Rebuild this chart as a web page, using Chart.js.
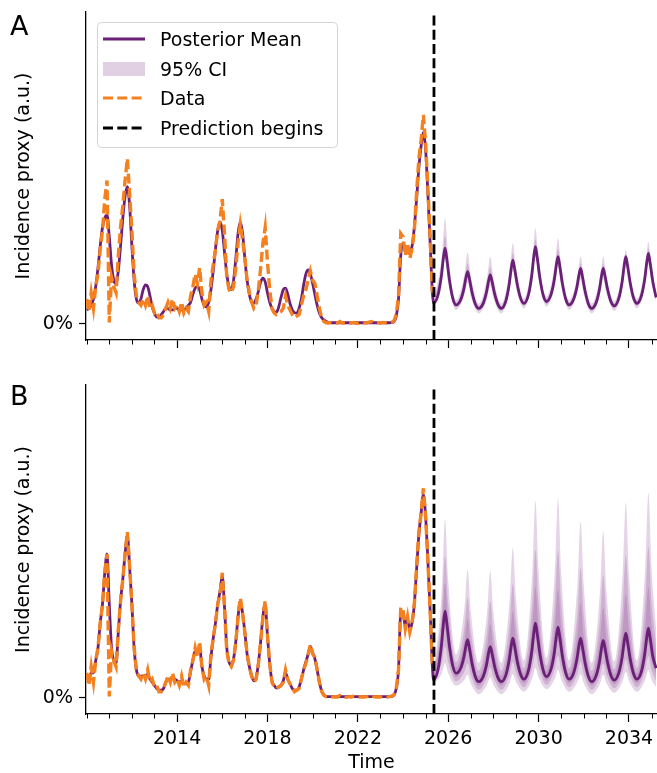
<!DOCTYPE html>
<html>
<head>
<meta charset="utf-8">
<script src="https://cdn.jsdelivr.net/npm/chart.js@4.4.1/dist/chart.umd.min.js"></script>
<style>
  html, body { margin: 0; padding: 0; background: #fff; }
  body { width: 657px; height: 773px; position: relative; overflow: hidden; font-family: "DejaVu Sans", sans-serif; }
  canvas { position: absolute; left: 0; }
  #chartA { top: 0; }
  #chartB { top: 365px; }
  .tag { position: absolute; left: 10px; font-size: 27px; line-height: 1; color: #000; }
  #legend { position: absolute; left: 0; top: 0; }
</style>
</head>
<body>
<canvas id="chartA" width="657" height="365"></canvas>
<canvas id="chartB" width="657" height="408"></canvas>
<div class="tag" style="top:12px">A</div>
<div class="tag" style="top:382px">B</div>
<svg id="legend" width="657" height="160" font-family="DejaVu Sans" font-size="19">
  <rect x="97.5" y="22.5" width="240" height="125" rx="4" fill="#fff" fill-opacity="0.8" stroke="#d4d4d4"/>
  <line x1="103" x2="145" y1="39" y2="39" stroke="#6b2077" stroke-width="3"/>
  <rect x="103" y="62" width="42" height="14" fill="rgb(118,42,131)" fill-opacity="0.22"/>
  <line x1="103" x2="145" y1="98" y2="98" stroke="#f4801f" stroke-width="3" stroke-dasharray="10 4.3"/>
  <line x1="103" x2="145" y1="128" y2="128" stroke="#000" stroke-width="3" stroke-dasharray="10 4.3"/>
  <text x="160" y="39" dominant-baseline="central">Posterior Mean</text>
  <text x="160" y="69" dominant-baseline="central">95% CI</text>
  <text x="160" y="98" dominant-baseline="central">Data</text>
  <text x="160" y="128" dominant-baseline="central">Prediction begins</text>
</svg>
<script>
// historical series, one value every 0.1 year from 2010.0
const histStart = 2010.0;
const histStep = 0.1;

const observed = [
  8, 4, 10, 5, 12, 16, 24, 30, 40, 46,
  0.5, 15, 12, 10, 22, 31, 38, 46, 53, 42,
  30, 16, 9, 7, 6, 8, 6, 9, 5, 6,
  3.5, 4, 2, 2, 3, 5, 7, 5, 8, 5,
  6, 4, 7, 3.5, 5, 4, 9, 12, 16, 13,
  18, 10, 6, 7, 4, 14, 19, 24, 30, 33,
  40, 29, 15, 11, 10, 12, 18, 26, 32, 27,
  21, 14, 10, 7, 5, 6, 11, 18, 26, 31,
  20, 11, 5, 3.5, 3, 3.5, 4, 5, 9, 6,
  4.5, 3, 2, 2.5, 3, 6, 9, 11, 14, 17,
  14, 13, 9, 5, 2, 0.8, 0.4, 0.3, 0.5, 0.3,
  0.4, 0.3, 0.8, 0.4, 0.3, 0.2, 0.4, 0.3, 0.5, 0.3,
  0.2, 0.3, 0.4, 0.3, 0.4, 0.6, 0.8, 0.4, 0.3, 0.4,
  0.3, 0.5, 0.4, 0.3, 0.4, 0.6, 1.0, 3, 9, 29,
  28, 22, 26, 21, 24, 30, 42, 53, 59, 67,
  58, 44, 28, 10
];

const meanHistA = [
  4.5, 5, 6, 8, 12, 18, 25, 31, 34, 35,
  28, 19, 14, 13, 17, 25, 34, 41, 44, 38,
  25, 14, 8, 6.7, 8, 11, 12.5, 12, 9, 5.5,
  3.5, 2.2, 2.2, 3, 4, 5, 5, 4.5, 4.5, 5,
  5, 4.5, 4.5, 4.5, 5, 6, 7, 9.5, 11.5, 12,
  11, 8, 6, 5.5, 7, 11, 17, 24, 30, 32.7,
  30, 23, 16, 12, 11, 14, 21, 29, 32.7, 29,
  21, 14, 9.5, 7, 6.7, 8, 10.5, 13.5, 14.7, 13.5,
  10, 7, 5, 4, 3.8, 5.5, 8.5, 11, 11.5, 9.5,
  6.5, 4.5, 3.6, 3.5, 5, 8, 12.5, 16, 17.3, 16,
  13, 9.5, 6, 3.5, 2, 1.3, 0.8, 0.5, 0.4, 0.4,
  0.4, 0.4, 0.4, 0.4, 0.4, 0.4, 0.4, 0.4, 0.4, 0.4,
  0.4, 0.4, 0.4, 0.4, 0.4, 0.4, 0.4, 0.4, 0.4, 0.4,
  0.4, 0.4, 0.4, 0.4, 0.4, 0.5, 0.8, 2.5, 8, 22,
  26, 24, 24, 23, 25, 31, 40, 50, 57, 61.5,
  56, 42, 26, 10
];

const meanHistB = [
  7, 6, 8, 8, 12, 16, 24, 30, 40, 46,
  30, 16, 12, 11, 21, 31, 38, 46, 52, 42,
  30, 16, 9, 7, 7, 7, 7, 7.5, 6, 5,
  4, 3, 2.5, 2.5, 3, 5, 6, 6, 6.5, 6,
  5.5, 5, 5.5, 4.5, 4.5, 5, 8.5, 12, 15, 15,
  16, 10, 7, 6, 6, 13, 19, 24, 30, 34,
  39, 29, 16, 11.5, 10.5, 12.5, 18, 26, 31, 27,
  21, 14, 10, 7, 5.5, 6.5, 11, 18, 26, 30,
  20, 11, 5.5, 4, 3.2, 3.5, 4, 5.5, 8, 6,
  4.5, 3, 2.5, 2.5, 3.5, 6, 9, 11.5, 14, 16.5,
  14.5, 12.5, 9, 5, 2.2, 1, 0.5, 0.4, 0.4, 0.4,
  0.4, 0.4, 0.4, 0.4, 0.4, 0.4, 0.4, 0.4, 0.4, 0.4,
  0.4, 0.4, 0.4, 0.4, 0.4, 0.4, 0.4, 0.4, 0.4, 0.4,
  0.4, 0.4, 0.4, 0.4, 0.4, 0.5, 0.9, 3, 9, 27,
  27, 23, 25, 22, 24, 30, 41, 52, 59, 65,
  58, 44, 28, 10
];

// forecast posterior mean (times built below: 2025.35 ... 2035.2)
const meanFcA = [
  6.7, 9.3, 15.5, 20.8, 24.3, 20.7,
  14.3, 8.3, 6.1, 7.7, 11.5, 14.7, 16.8, 14.4,
  10.3, 6.4, 5.0, 6.6, 10.4, 13.6, 15.7, 13.6,
  9.8, 6.3, 5.0, 7.3, 12.8, 17.4, 20.5, 17.7,
  12.9, 8.3, 6.6, 9.3, 15.7, 21.2, 24.8, 21.3,
  15.1, 9.3, 7.2, 9.4, 14.4, 18.7, 21.6, 18.5,
  13.1, 8.0, 6.1, 7.9, 12.0, 15.5, 17.8, 15.2,
  10.8, 6.5, 5.0, 6.9, 11.4, 15.2, 17.8, 15.4,
  11.2, 7.2, 5.8, 8.2, 13.7, 18.4, 21.6, 18.6,
  13.4, 8.4, 6.6, 9.0, 14.6, 19.4, 22.6, 19.4,
  13.8, 8.5
];

const meanFcB = [
  5.8, 9.1, 16.8, 23.3, 27.7, 23.7,
  16.8, 10.3, 7.9, 9.5, 13.3, 16.5, 18.6, 15.9,
  11.2, 6.8, 5.2, 6.9, 10.8, 14.2, 16.4, 14.2,
  10.2, 6.5, 5.2, 7.3, 12.2, 16.3, 19.1, 16.5,
  11.9, 7.6, 6.0, 8.7, 15.0, 20.3, 23.9, 20.5,
  14.5, 8.9, 6.8, 9.2, 14.7, 19.4, 22.6, 19.3,
  13.5, 8.0, 6.0, 8.0, 12.6, 16.5, 19.1, 16.3,
  11.5, 6.9, 5.2, 7.2, 11.8, 15.8, 18.4, 15.9,
  11.4, 7.2, 5.7, 8.0, 13.2, 17.7, 20.7, 17.8,
  12.6, 7.8, 6.0, 8.4, 14.2, 19.0, 22.3, 19.0,
  13.5, 9.5
];

// credible band edges (times built below: 2025.35, 2025.72, 2025.86, 2026.0, ...)
const bandOuterHiA = [7.2, 21.9, 34, 22.2, 7.7, 16.1, 23, 15.6, 6.6, 14.9, 21.6, 14.9, 6.6, 17.2, 25.9, 17.9, 8.2, 20.6, 30.7, 20.8, 8.8, 19.1, 27.5, 18.6, 7.7, 15.3, 21.6, 14.9, 6.6, 14.9, 21.6, 15.2, 7.4, 16.4, 23.7, 16.7, 8.2, 18.2, 26.4, 18.2, 10];
const bandOuterLoA = [6.2, 14.2, 20.8, 13.5, 4.5, 9.3, 13.3, 8.8, 3.4, 8.2, 12.2, 8.2, 3.4, 10.9, 17.0, 11.6, 5.0, 14.0, 21.3, 14.2, 5.6, 12.5, 18.1, 12.0, 4.5, 9.9, 14.3, 9.4, 3.4, 9.4, 14.3, 9.8, 4.2, 11.8, 18.1, 12.2, 5.0, 12.8, 19.1, 12.8, 7];
const bandInnerHiA = [7.0, 18.7, 28.2, 18.6, 6.9, 13.7, 19.3, 13.2, 5.8, 12.6, 18.1, 12.6, 5.8, 15.1, 22.7, 15.8, 7.4, 18.3, 27.2, 18.6, 8.0, 16.8, 24.0, 16.3, 6.9, 13.7, 19.3, 13.2, 5.8, 13.2, 19.3, 13.6, 6.6, 15.3, 22.4, 15.7, 7.4, 16.6, 24.1, 16.6, 9.2];
const bandInnerLoA = [6.4, 15.4, 22.8, 14.9, 5.3, 10.8, 15.3, 10.3, 4.2, 9.7, 14.2, 9.7, 4.2, 12.3, 19.0, 13.1, 5.8, 15.4, 23.3, 15.7, 6.4, 13.9, 20.1, 13.4, 5.3, 11.4, 16.3, 10.9, 4.2, 10.9, 16.3, 11.2, 5.0, 13.3, 20.1, 13.7, 5.8, 14.2, 21.1, 14.2, 7.8];

const bandOuterHiB = [7.5, 34.7, 57, 37.6, 13.9, 28.8, 41, 27.6, 11.2, 27.3, 40.5, 27.3, 11.2, 31.4, 48, 31.8, 12, 40, 62.9, 40.4, 12.8, 40.7, 63.5, 40.3, 12, 36.5, 56.5, 36.1, 11.2, 34.4, 53.3, 34.6, 11.7, 39.6, 62.4, 39.7, 12, 41.5, 65.6, 41.5, 22];
const bandOuterLoB = [4.2, 8.0, 11.1, 7.9, 3.9, 5.8, 7.4, 4.6, 1.2, 4.2, 6.6, 4.2, 1.2, 4.7, 7.6, 5.1, 2.0, 6.2, 9.6, 6.5, 2.8, 6.2, 9.0, 5.9, 2.0, 5.1, 7.6, 4.7, 1.2, 4.6, 7.4, 4.8, 1.7, 5.3, 8.3, 5.5, 2.0, 5.8, 8.9, 5.8, 3.5];
const bandMidHiB = [6.8, 28.0, 45.3, 30.0, 11.4, 22.7, 32.0, 21.5, 8.7, 20.9, 30.9, 20.9, 8.7, 23.9, 36.4, 24.3, 9.5, 30.3, 47.3, 30.7, 10.3, 30.5, 47.1, 30.2, 9.5, 27.1, 41.5, 26.7, 8.7, 25.5, 39.3, 25.8, 9.2, 29.3, 45.7, 29.4, 9.5, 30.8, 48.3, 30.8, 17];
const bandMidLoB = [4.8, 11.3, 16.6, 11.5, 5.3, 8.5, 11.2, 7.3, 2.6, 6.6, 9.8, 6.6, 2.6, 7.5, 11.5, 7.9, 3.4, 9.4, 14.3, 9.8, 4.2, 9.4, 13.6, 9.0, 3.4, 7.9, 11.5, 7.5, 2.6, 7.2, 11.0, 7.4, 3.1, 8.2, 12.4, 8.4, 3.4, 8.9, 13.4, 8.9, 5.5];
const bandInnerHiB = [6.3, 22.9, 36.5, 24.4, 9.7, 18.3, 25.3, 17.1, 7.0, 16.1, 23.6, 16.1, 7.0, 18.4, 27.8, 18.8, 7.8, 23.1, 35.6, 23.5, 8.6, 23.1, 34.9, 22.7, 7.8, 20.2, 30.3, 19.8, 7.0, 19.0, 28.9, 19.3, 7.5, 21.6, 33.2, 21.8, 7.8, 22.9, 35.3, 22.9, 13.5];
const bandInnerLoB = [5.3, 14.6, 22.2, 15.2, 6.6, 11.2, 14.9, 10.0, 3.9, 9.0, 13.1, 9.0, 3.9, 10.2, 15.3, 10.5, 4.7, 12.6, 19.1, 13.0, 5.5, 12.4, 18.1, 12.1, 4.7, 10.5, 15.3, 10.2, 3.9, 9.8, 14.7, 10.1, 4.4, 11.1, 16.6, 11.2, 4.7, 11.9, 17.8, 11.9, 7.5];

const xTickYears = [2014, 2018, 2022, 2026, 2030, 2034];
const predictionStart = 2025.37;
const xMin = 2009.97, xMax = 2035.24;
const yMin = -5.13, yMax = 100;

const PURPLE = "#6b2077";
const ORANGE = "#f4801f";
const BAND = "rgba(118, 42, 131, 0.2)";

// time grids
const histTimes = observed.map((_, i) => +(histStart + i * histStep).toFixed(2));
const fcTimes = [2025.35, 2025.55, 2025.7, 2025.78, 2025.86, 2025.94];
for (let yr = 2026; yr <= 2034; yr++) {
  [0.05, 0.2, 0.35, 0.55, 0.7, 0.78, 0.86, 0.94].forEach(o => fcTimes.push(+(yr + o).toFixed(2)));
}
fcTimes.push(2035.05, 2035.2);
const bandTimes = [2025.35, 2025.72, 2025.86];
for (let yr = 2026; yr <= 2034; yr++) {
  [0, 0.35, 0.72, 0.86].forEach(o => bandTimes.push(+(yr + o).toFixed(2)));
}
bandTimes.push(2035.0, 2035.2);

const pts = (xs, ys) => ys.map((y, i) => ({ x: xs[i], y: y }));

const minorTicks = {
  id: "minorTicks",
  afterDraw(chart) {
    const sx = chart.scales.x;
    const ctx = chart.ctx;
    ctx.save();
    ctx.strokeStyle = "#000";
    ctx.lineWidth = 1;
    for (let yr = Math.ceil(sx.min); yr <= sx.max; yr++) {
      if (xTickYears.includes(yr)) continue;
      const px = Math.round(sx.getPixelForValue(yr)) + 0.5;
      ctx.beginPath();
      ctx.moveTo(px, sx.top);
      ctx.lineTo(px, sx.top + 4.5);
      ctx.stroke();
    }
    ctx.restore();
  }
};

function bandSets(hi, lo, order) {
  const base = { borderWidth: 0, pointRadius: 0, backgroundColor: BAND, cubicInterpolationMode: "monotone", order: order };
  return [
    Object.assign({ data: pts(bandTimes, hi), fill: "+1" }, base),
    Object.assign({ data: pts(bandTimes, lo), fill: false }, base)
  ];
}

function makePanel(id, meanHist, meanFc, bands, opts) {
  const datasets = [
    {
      data: [{ x: predictionStart, y: yMin }, { x: predictionStart, y: yMax }],
      borderColor: "#000", borderWidth: 2.8, borderDash: [10, 4.3], pointRadius: 0, tension: 0, order: 0
    },
    {
      data: pts(histTimes, observed),
      borderColor: ORANGE, borderWidth: 3.4, borderDash: [10, 4.3], pointRadius: 0, tension: 0, order: 1
    },
    {
      data: pts(histTimes, meanHist).concat(pts(fcTimes, meanFc)),
      borderColor: PURPLE, borderWidth: 2.8, pointRadius: 0, cubicInterpolationMode: "monotone", order: 2
    }
  ];
  bands.forEach((b, k) => datasets.push(...bandSets(b[0], b[1], 3 + bands.length - k)));

  const font = { family: "DejaVu Sans", size: 19 };
  return new Chart(document.getElementById(id), {
    type: "line",
    data: { datasets: datasets },
    plugins: [minorTicks],
    options: {
      responsive: false,
      animation: false,
      events: [],
      layout: { padding: { top: opts.top, right: 0, bottom: 0, left: 0 } },
      plugins: { legend: { display: false }, tooltip: { enabled: false } },
      scales: {
        x: {
          type: "linear",
          min: xMin,
          max: xMax,
          afterBuildTicks: s => { s.ticks = xTickYears.map(v => ({ value: v })); },
          afterFit: s => { s.height = opts.xHeight; s.paddingLeft = 0; s.paddingRight = 0; },
          grid: { drawOnChartArea: false, tickLength: 8, tickColor: "#000", tickWidth: 1.2 },
          border: { color: "#000", width: 1.3 },
          ticks: {
            font: font, color: "#000", padding: 6, maxRotation: 0, autoSkip: false,
            callback: v => (opts.xLabels ? String(v) : "")
          },
          title: {
            display: opts.xLabels, text: "Time", color: "#000",
            font: { family: "DejaVu Sans", size: 19, lineHeight: 1 }, padding: { top: -1, bottom: 0 }
          }
        },
        y: {
          min: yMin,
          max: yMax,
          afterBuildTicks: s => { s.ticks = [{ value: 0 }]; },
          afterFit: s => { s.width = 86; s.paddingTop = 0; s.paddingBottom = 0; },
          grid: { drawOnChartArea: false, tickLength: 7, tickColor: "#000", tickWidth: 1.2 },
          border: { color: "#000", width: 1.3 },
          ticks: { font: font, color: "#000", padding: 6, callback: v => (v === 0 ? "0%" : "") },
          title: {
            display: true, text: "Incidence proxy (a.u.)", color: "#000",
            font: { family: "DejaVu Sans", size: 19, lineHeight: 1.2 }, padding: { top: 13, bottom: 0 }
          }
        }
      }
    }
  });
}

makePanel("chartA", meanHistA, meanFcA,
  [[bandOuterHiA, bandOuterLoA], [bandInnerHiA, bandInnerLoA]],
  { top: 12, xHeight: 25, xLabels: false });

makePanel("chartB", meanHistB, meanFcB,
  [[bandOuterHiB, bandOuterLoB], [bandMidHiB, bandMidLoB], [bandInnerHiB, bandInnerLoB]],
  { top: 20, xHeight: 59, xLabels: true });
</script>
</body>
</html>
